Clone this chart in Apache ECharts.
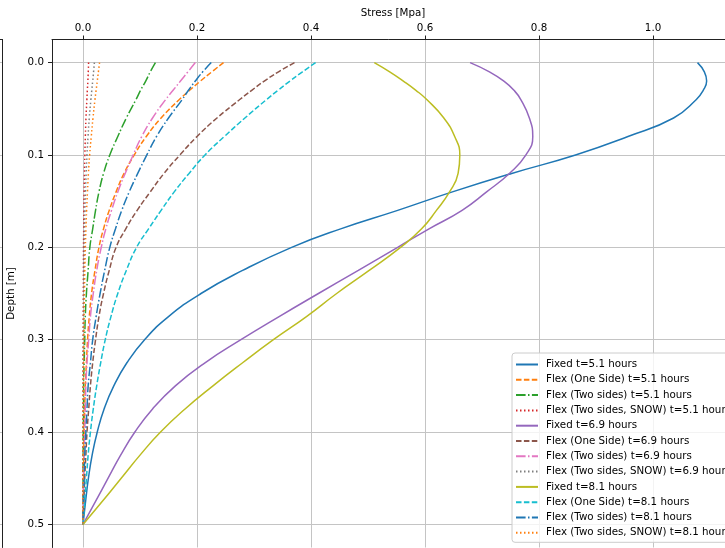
<!DOCTYPE html>
<html>
<head>
<meta charset="utf-8">
<script src="https://cdn.jsdelivr.net/npm/echarts@6/dist/echarts.min.js"></script>
<style>
  html, body { margin: 0; padding: 0; background: #fff; overflow: hidden; }
  #chart { width: 725px; height: 548px; }
</style>
</head>
<body>
<div id="chart"></div>
<script>
// depth below surface [m], shared by every curve
const depth = [0, 0.01, 0.02, 0.03, 0.04, 0.06, 0.08, 0.1, 0.12, 0.14, 0.16, 0.18, 0.2, 0.225, 0.25, 0.275, 0.3, 0.325, 0.35, 0.375, 0.4, 0.425, 0.45, 0.475, 0.5];

// stress [MPa], one array per curve
const fixed51     = [1.078, 1.090, 1.094, 1.088, 1.076, 1.036, 0.956, 0.864, 0.752, 0.648, 0.552, 0.452, 0.366, 0.280, 0.207, 0.150, 0.108, 0.077, 0.054, 0.037, 0.025, 0.016, 0.0095, 0.0045, 0];
const oneSide51   = [0.2465, 0.226, 0.206, 0.187, 0.169, 0.137, 0.111, 0.090, 0.072, 0.058, 0.046, 0.036, 0.028, 0.021, 0.015, 0.011, 0.008, 0.006, 0.004, 0.003, 0.002, 0.0015, 0.001, 0.0005, 0];
const twoSides51  = [0.127, 0.118, 0.110, 0.101, 0.093, 0.076, 0.061, 0.047, 0.036, 0.028, 0.022, 0.017, 0.012, 0.009, 0.006, 0.004, 0.003, 0.002, 0.001, 0.001, 0.0005, 0.0003, 0.0002, 0.0001, 0];
const snow51      = [0.0098, 0.0092, 0.0085, 0.0076, 0.0068, 0.0052, 0.0041, 0.0032, 0.0025, 0.0019, 0.0015, 0.0012, 0.0009, 0.0007, 0.0005, 0.0004, 0.0003, 0.0002, 0.0002, 0.0001, 0.0001, 0.0001, 0, 0, 0];
const fixed69     = [0.679, 0.713, 0.738, 0.756, 0.768, 0.783, 0.789, 0.777, 0.748, 0.708, 0.665, 0.607, 0.552, 0.483, 0.413, 0.344, 0.277, 0.214, 0.162, 0.122, 0.091, 0.066, 0.044, 0.022, 0];
const oneSide69   = [0.371, 0.343, 0.318, 0.296, 0.275, 0.235, 0.200, 0.170, 0.142, 0.118, 0.095, 0.075, 0.058, 0.046, 0.036, 0.028, 0.022, 0.017, 0.013, 0.010, 0.007, 0.005, 0.003, 0.0015, 0];
const twoSides69  = [0.197, 0.184, 0.171, 0.158, 0.145, 0.122, 0.103, 0.088, 0.074, 0.061, 0.050, 0.040, 0.032, 0.024, 0.018, 0.013, 0.010, 0.007, 0.005, 0.004, 0.003, 0.002, 0.001, 0.0005, 0];
const snow69      = [0.020, 0.0185, 0.017, 0.0154, 0.0138, 0.011, 0.0088, 0.007, 0.0055, 0.0043, 0.0034, 0.0027, 0.0021, 0.0016, 0.0012, 0.0009, 0.0007, 0.0005, 0.0004, 0.0003, 0.0002, 0.0001, 0.0001, 0, 0];
const fixed81     = [0.511, 0.538, 0.562, 0.584, 0.603, 0.633, 0.652, 0.661, 0.658, 0.643, 0.620, 0.594, 0.557, 0.502, 0.445, 0.392, 0.334, 0.280, 0.228, 0.179, 0.136, 0.100, 0.067, 0.034, 0];
const oneSide81   = [0.408, 0.385, 0.363, 0.342, 0.322, 0.284, 0.248, 0.214, 0.186, 0.160, 0.137, 0.115, 0.094, 0.076, 0.061, 0.049, 0.039, 0.031, 0.024, 0.018, 0.013, 0.009, 0.006, 0.003, 0];
const twoSides81  = [0.225, 0.210, 0.197, 0.185, 0.174, 0.150, 0.129, 0.112, 0.096, 0.081, 0.068, 0.057, 0.047, 0.038, 0.030, 0.023, 0.017, 0.013, 0.009, 0.007, 0.005, 0.003, 0.002, 0.001, 0];
const snow81      = [0.029, 0.027, 0.025, 0.023, 0.021, 0.0175, 0.0145, 0.0116, 0.0095, 0.0078, 0.0063, 0.0051, 0.0041, 0.0032, 0.0025, 0.0019, 0.0015, 0.0011, 0.0009, 0.0007, 0.0005, 0.0004, 0.0002, 0.0001, 0];

const seriesNames = [
  'Fixed t=5.1 hours', 'Flex (One Side) t=5.1 hours', 'Flex (Two sides) t=5.1 hours', 'Flex (Two sides, SNOW) t=5.1 hours',
  'Fixed t=6.9 hours', 'Flex (One Side) t=6.9 hours', 'Flex (Two sides) t=6.9 hours', 'Flex (Two sides, SNOW) t=6.9 hours',
  'Fixed t=8.1 hours', 'Flex (One Side) t=8.1 hours', 'Flex (Two sides) t=8.1 hours', 'Flex (Two sides, SNOW) t=8.1 hours'
];
const seriesValues = [
  fixed51, oneSide51, twoSides51, snow51,
  fixed69, oneSide69, twoSides69, snow69,
  fixed81, oneSide81, twoSides81, snow81
];

const xTicks = [0, 0.2, 0.4, 0.6, 0.8, 1.0];
const yTicks = [0, 0.1, 0.2, 0.3, 0.4, 0.5];

// matplotlib tab10 cycle + line style cycle
const palette = ['#1f77b4', '#ff7f0e', '#2ca02c', '#d62728', '#9467bd', '#8c564b',
                 '#e377c2', '#7f7f7f', '#bcbd22', '#17becf', '#1f77b4', '#ff7f0e'];
const dashes = ['solid', [5.5, 2.4], [9.6, 2.4, 1.5, 2.4], [1.5, 2.5]];

const FONT = 'DejaVu Sans';
const FS = 10.3;
const chart = echarts.init(document.getElementById('chart'));

const series = seriesValues.map((vals, i) => ({
  name: seriesNames[i],
  type: 'line',
  xAxisIndex: 0,
  yAxisIndex: 0,
  symbol: 'none',
  smooth: 0.5,
  color: palette[i],
  lineStyle: { color: palette[i], width: 1.5, type: dashes[i % 4] },
  data: depth.map((d, k) => [vals[k], d])
}));

const option = {
  animation: false,
  backgroundColor: '#fff',
  textStyle: { fontFamily: FONT },
  grid: [
    { left: 52, top: 39.5, width: 682, height: 508, outerBoundsMode: 'none' },
    // remnant of the neighbouring subplot at the far left edge
    { left: -100, top: 39.5, width: 102.5, height: 508, outerBoundsMode: 'none' }
  ],
  xAxis: [
    {
      gridIndex: 0,
      type: 'value',
      position: 'top',
      min: -0.0544,
      max: 1.142,
      name: 'Stress [Mpa]',
      nameLocation: 'middle',
      nameGap: 15,
      nameTextStyle: { color: '#000', fontSize: FS, fontFamily: FONT },
      axisLine: { show: true, onZero: false, lineStyle: { color: '#222', width: 1 } },
      axisTick: { show: true, length: 4, customValues: xTicks, lineStyle: { color: '#222' } },
      axisLabel: { customValues: xTicks, margin: 6, color: '#000', fontSize: FS, fontFamily: FONT,
                   formatter: v => v.toFixed(1) },
      splitLine: { show: true, lineStyle: { color: '#c4c4c4', width: 1 } }
    },
    {
      gridIndex: 1,
      type: 'value',
      position: 'top',
      min: 0,
      max: 1,
      axisLine: { show: true, onZero: false, lineStyle: { color: '#222', width: 1 } },
      axisTick: { show: false },
      axisLabel: { show: false },
      splitLine: { show: false }
    }
  ],
  yAxis: [
    {
      gridIndex: 0,
      type: 'value',
      inverse: true,
      min: -0.025,
      max: 0.525,
      name: 'Depth [m]',
      nameLocation: 'middle',
      nameGap: 36,
      nameTextStyle: { color: '#000', fontSize: FS, fontFamily: FONT },
      axisLine: { show: true, onZero: false, lineStyle: { color: '#222', width: 1 } },
      axisTick: { show: true, length: 4, customValues: yTicks, lineStyle: { color: '#222' } },
      axisLabel: { customValues: yTicks, margin: 8, color: '#000', fontSize: FS, fontFamily: FONT,
                   formatter: v => v.toFixed(1) },
      splitLine: { show: true, lineStyle: { color: '#c4c4c4', width: 1 } }
    },
    {
      gridIndex: 1,
      type: 'value',
      inverse: true,
      position: 'right',
      min: -0.025,
      max: 0.525,
      axisLine: { show: true, onZero: false, lineStyle: { color: '#222', width: 1 } },
      axisTick: { show: false, customValues: yTicks },
      axisLabel: { show: false, customValues: yTicks },
      splitLine: { show: true, lineStyle: { color: '#c4c4c4', width: 1 } }
    }
  ],
  legend: {
    orient: 'vertical',
    left: 512,
    top: 353,
    itemWidth: 22,
    itemHeight: 11,
    itemGap: 4.3,
    padding: [6, 3, 4, 3],
    backgroundColor: 'rgba(255,255,255,0.8)',
    borderColor: '#cccccc',
    borderWidth: 1,
    borderRadius: 3,
    itemStyle: { opacity: 0 },
    textStyle: { color: '#000', fontSize: FS, lineHeight: 11, fontFamily: FONT, padding: [0, 0, 0, 3] },
    data: seriesNames
  },
  series
};

chart.setOption(option);
</script>
</body>
</html>
